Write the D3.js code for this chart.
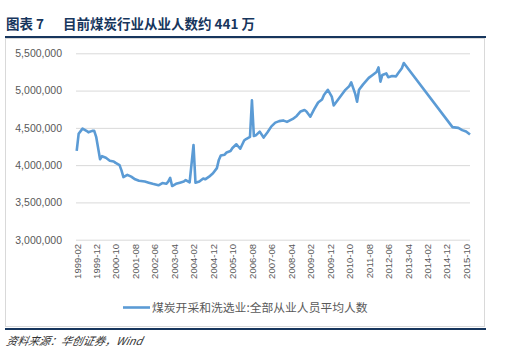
<!DOCTYPE html>
<html>
<head>
<meta charset="utf-8">
<script src="https://cdn.jsdelivr.net/npm/d3@7"></script>
<style>
  body { margin: 0; background: #fff; }
  svg { display: block; }
</style>
</head>
<body>
<svg id="chart" width="507" height="361"></svg>
<script>
// month labels and readings (persons)
const months = [
  "1999-02","1999-03","1999-05","1999-07","1999-08","1999-10","1999-11","1999-12",
  "2000-02","2000-03","2000-05","2000-07","2000-09","2000-10","2000-12",
  "2001-01","2001-02","2001-04","2001-06","2001-08","2001-10",
  "2002-01","2002-03","2002-05","2002-08","2002-10","2002-12",
  "2003-01","2003-02","2003-03","2003-05","2003-07","2003-09","2003-10","2003-12",
  "2004-02","2004-03","2004-05","2004-07","2004-08","2004-10","2004-12",
  "2005-02","2005-03","2005-04","2005-06","2005-07","2005-09","2005-10","2005-12",
  "2006-02","2006-04","2006-05","2006-07","2006-08","2006-09","2006-10","2006-12",
  "2007-02","2007-04","2007-06","2007-08","2007-10","2007-12",
  "2008-02","2008-05","2008-07","2008-09","2008-11","2008-12",
  "2009-02","2009-04","2009-06","2009-08","2009-09","2009-11",
  "2010-01","2010-02","2010-04","2010-06","2010-08","2010-10","2010-11",
  "2011-01","2011-02","2011-03","2011-05","2011-07","2011-08","2011-10","2011-12",
  "2012-01","2012-02","2012-03","2012-05","2012-06","2012-08","2012-10","2012-11",
  "2013-01","2013-02",
  "2015-03","2015-06","2015-08","2015-10","2015-12"
];
const workers = [
  4190000,4420000,4490000,4460000,4440000,4460000,4460000,4380000,
  4080000,4120000,4100000,4060000,4050000,4030000,4000000,
  3930000,3840000,3870000,3845000,3810000,3790000,
  3780000,3765000,3750000,3730000,3760000,3750000,
  3780000,3830000,3720000,3750000,3765000,3780000,3800000,3770000,
  4270000,3765000,3780000,3820000,3810000,3845000,3890000,
  3960000,4070000,4130000,4140000,4170000,4190000,4230000,4280000,
  4220000,4330000,4350000,4380000,4870000,4390000,4400000,4450000,
  4370000,4440000,4520000,4570000,4590000,4600000,
  4580000,4620000,4660000,4720000,4740000,4720000,
  4650000,4750000,4840000,4880000,4940000,5010000,
  4920000,4800000,4870000,4940000,5010000,5060000,5110000,
  4960000,4850000,5010000,5080000,5140000,5170000,5210000,5250000,
  5310000,5120000,5210000,5230000,5180000,5195000,5190000,5230000,
  5300000,5370000,
  4510000,4500000,4470000,4450000,4410000
];
const yTicks = [3000000, 3500000, 4000000, 4500000, 5000000, 5500000];
const xTickLabels = [
  "1999-02","1999-12","2000-10","2001-08","2002-06","2003-04","2004-02",
  "2004-12","2005-10","2006-08","2007-06","2008-04","2009-02","2009-12",
  "2010-10","2011-08","2012-06","2013-04","2014-02","2014-12","2015-10"
];
const firstMonth = "1999-02";
const lastMonth = "2015-12";
const seriesName = "煤炭开采和洗选业:全部从业人员平均人数";
const titleLabel = "图表 7";
const titleText = "目前煤炭行业从业人数约 441 万";
const sourceText = "资料来源：华创证券，Wind";

const navy = "#17365d";
const grey = "#595959";

// month string -> month count
function monthIndex(s) {
  const [y, m] = s.split("-").map(Number);
  return y * 12 + (m - 1);
}
function monthLabel(i) {
  const y = Math.floor(i / 12);
  const m = i % 12 + 1;
  return y + "-" + (m < 10 ? "0" + m : m);
}

const svg = d3.select("#chart");
const font = "'Liberation Sans', Arial, sans-serif";
const cjk = "'Noto Sans CJK SC', 'Noto Sans', sans-serif";

// title
svg.append("text")
  .attr("x", 6).attr("y", 29)
  .attr("fill", navy)
  .attr("font-family", cjk)
  .attr("font-weight", "bold")
  .attr("font-size", 13.5)
  .text(titleLabel);
svg.append("text")
  .attr("x", 63).attr("y", 29)
  .attr("fill", navy)
  .attr("font-family", cjk)
  .attr("font-weight", "bold")
  .attr("font-size", 13.5)
  .text(titleText);

svg.append("line")
  .attr("x1", 5).attr("x2", 486).attr("y1", 37).attr("y2", 37)
  .attr("stroke", navy).attr("stroke-width", 2);

// chart frame
svg.append("rect")
  .attr("x", 5.5).attr("y", 38.5).attr("width", 479).attr("height", 288)
  .attr("fill", "none").attr("stroke", "#d9d9d9");

svg.append("line")
  .attr("x1", 5).attr("x2", 486).attr("y1", 329).attr("y2", 329)
  .attr("stroke", navy).attr("stroke-width", 2);

svg.append("text")
  .attr("x", 6).attr("y", 345)
  .attr("fill", "#333")
  .attr("font-family", cjk)
  .attr("font-style", "italic")
  .attr("font-size", 11)
  .attr("transform", "skewX(-12) translate(73,0)")
  .text(sourceText);

// scales
const x = d3.scaleLinear()
  .domain([monthIndex(firstMonth), monthIndex(lastMonth)])
  .range([76.7, 470]);
const y = d3.scaleLinear()
  .domain([3000000, 5500000])
  .range([239.7, 53.3]);

// y axis with gridlines
const yAxis = svg.append("g")
  .attr("transform", "translate(76,0)")
  .call(d3.axisLeft(y).tickValues(yTicks).tickSize(-394).tickPadding(14)
    .tickFormat(d3.format(",")));
yAxis.select(".domain").remove();
yAxis.selectAll("line").attr("stroke", "#d9d9d9");
yAxis.selectAll("text")
  .attr("fill", grey)
  .attr("font-family", font)
  .attr("font-size", 10.5);

// x axis
const xAxis = svg.append("g")
  .attr("transform", "translate(0,240)")
  .call(d3.axisBottom(x).tickValues(xTickLabels.map(monthIndex)).tickSize(0)
    .tickFormat(monthLabel));
xAxis.select(".domain").remove();
xAxis.selectAll("text")
  .attr("fill", grey)
  .attr("font-family", font)
  .attr("font-size", 9.5)
  .attr("text-anchor", "end")
  .attr("transform", "rotate(-90)")
  .attr("x", -4)
  .attr("y", 0)
  .attr("dy", "0.35em");

// series line
const data = months.map((m, i) => ({ m: monthIndex(m), v: workers[i] }));
svg.append("path")
  .datum(data)
  .attr("fill", "none")
  .attr("stroke", "#5b9bd5")
  .attr("stroke-width", 2.6)
  .attr("stroke-linejoin", "round")
  .attr("d", d3.line().x(d => x(d.m)).y(d => y(d.v)));

// legend
svg.append("line")
  .attr("x1", 123).attr("x2", 150).attr("y1", 307.5).attr("y2", 307.5)
  .attr("stroke", "#5b9bd5").attr("stroke-width", 2.6);
svg.append("text")
  .attr("x", 152).attr("y", 311.5)
  .attr("fill", grey)
  .attr("font-family", cjk)
  .attr("font-size", 11.8)
  .text(seriesName);
</script>
</body>
</html>
